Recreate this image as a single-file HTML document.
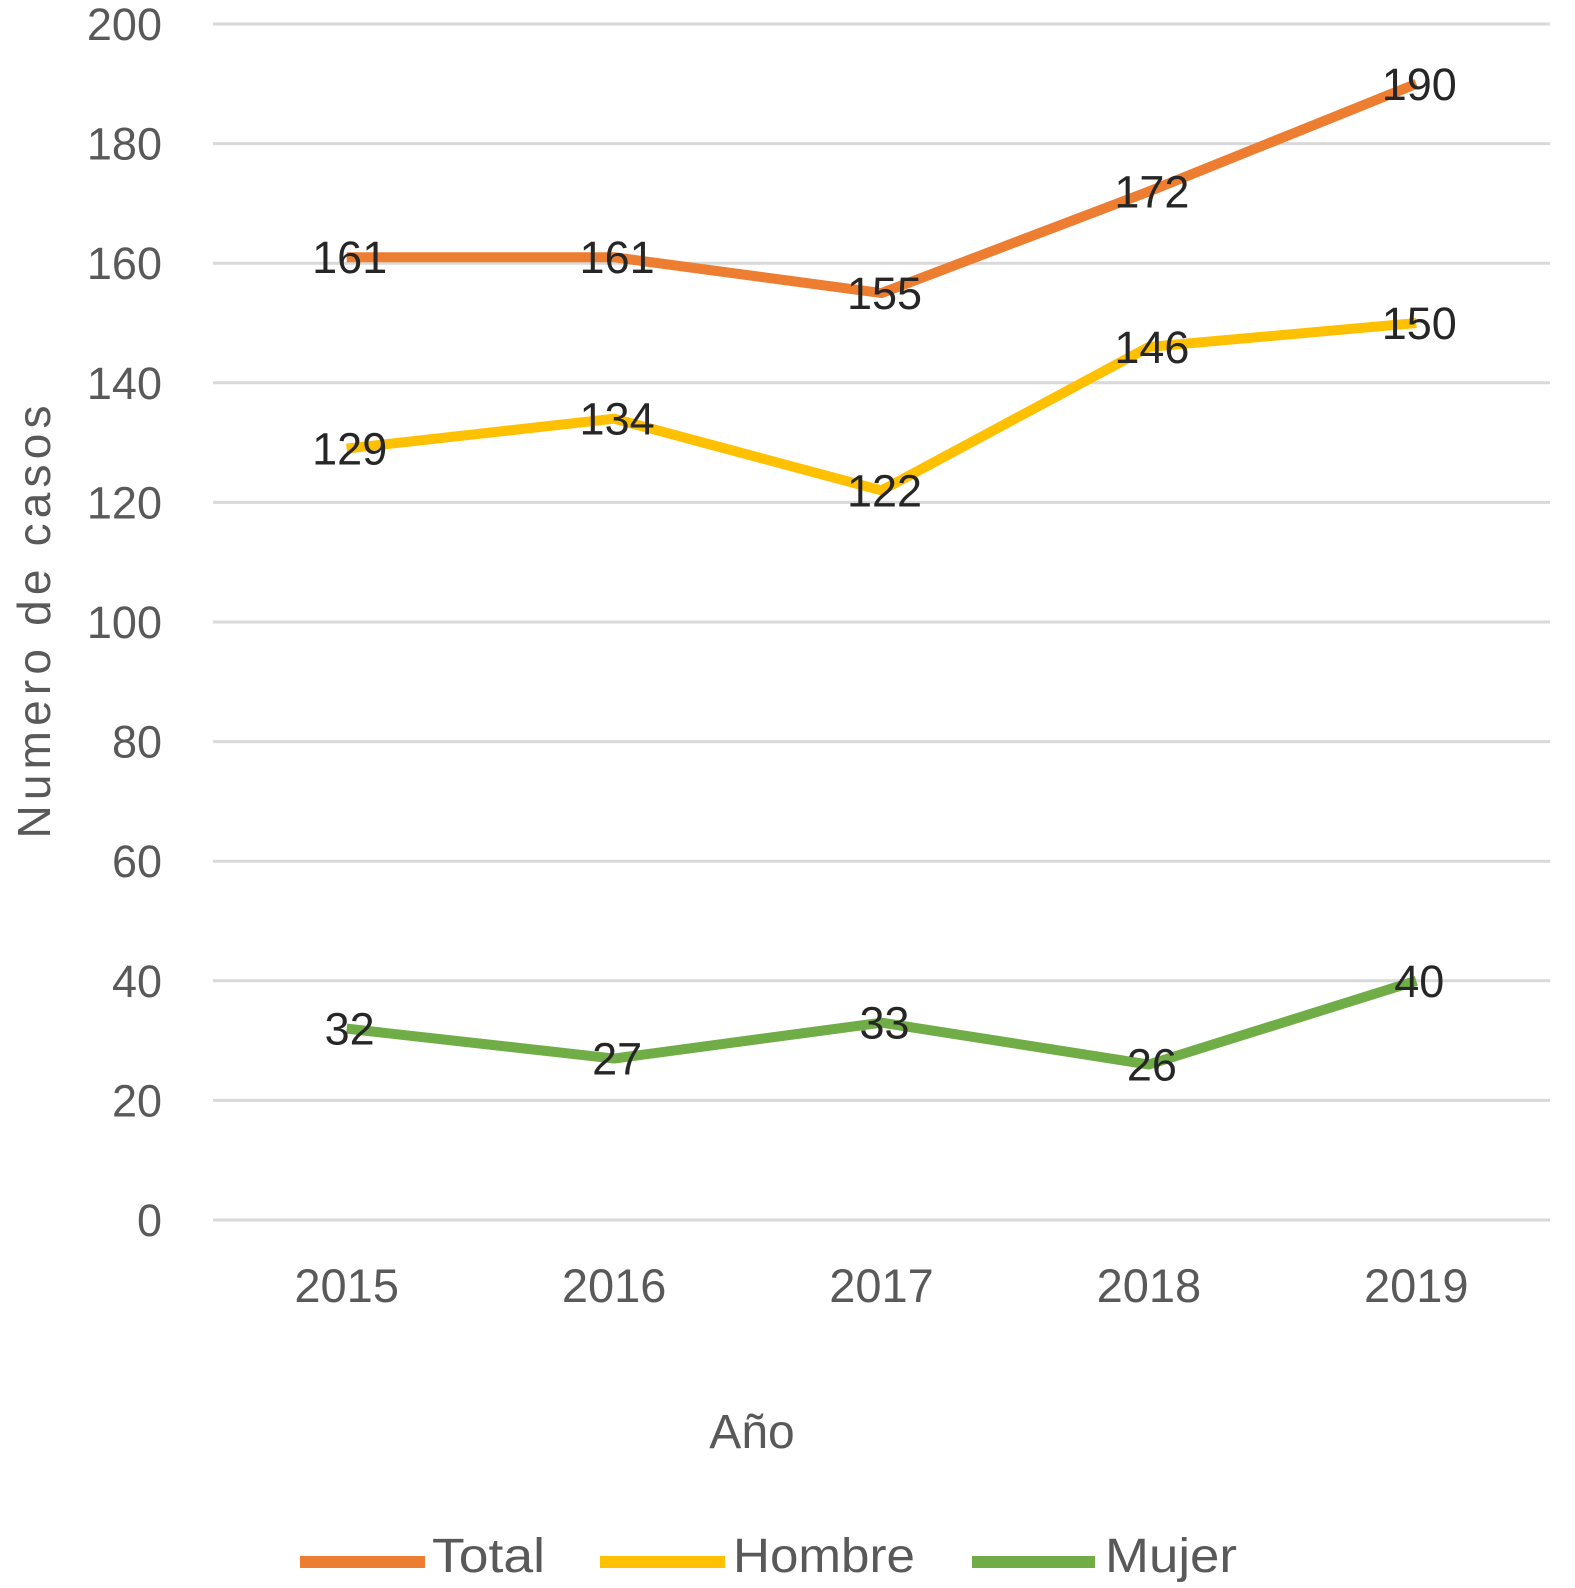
<!DOCTYPE html>
<html><head><meta charset="utf-8"><style>
body{margin:0;background:#fff;}
svg{display:block;font-family:"Liberation Sans",sans-serif;}
</style></head><body>
<svg id="chart" width="1575" height="1588" viewBox="0 0 1575 1588"></svg>
<script>
const categories=["2015","2016","2017","2018","2019"];
const totalValues=[161,161,155,172,190];
const hombreValues=[129,134,122,146,150];
const mujerValues=[32,27,33,26,40];
const yTicks=[0,20,40,60,80,100,120,140,160,180,200];
const seriesNames=["Total","Hombre","Mujer"];
const NS="http://www.w3.org/2000/svg";
const svg=document.getElementById('chart');
const L=213,R=1550,T=24,B=1220;
function y(v){return B-(v/200)*(B-T);}
function x(i){return L+(R-L)/categories.length*(i+0.5);}
function mk(tag,attrs,txt){const e=document.createElementNS(NS,tag);for(const k in attrs)e.setAttribute(k,attrs[k]);if(txt!==undefined)e.textContent=txt;svg.appendChild(e);return e;}
yTicks.forEach(t=>{
 const g=mk('line',{x1:L,x2:R,y1:y(t),y2:y(t),stroke:'#d9d9d9','stroke-width':3});
 
 
 const l=mk('text',{x:162,y:y(t)+16,'text-anchor':'end','font-size':45,fill:'#595959'},t);
 
 
});
categories.forEach((c,i)=>{
 const l=mk('text',{x:x(i),y:1302,'text-anchor':'middle','font-size':47,fill:'#595959'},c);
 
 
});
const series=[[totalValues,'#ED7D31'],[hombreValues,'#FFC000'],[mujerValues,'#70AD47']];
series.forEach(([vals,col],s)=>{
 const p=mk('polyline',{points:vals.map((v,i)=>x(i)+','+y(v)).join(' '),fill:'none',stroke:col,'stroke-width':10,'stroke-linejoin':'round'});
 
 
});
series.forEach(([vals],s)=>{
 vals.forEach((v,i)=>{
  const l=mk('text',{x:x(i)+3,y:y(v)+16,'text-anchor':'middle','font-size':45,fill:'#262626'},v);
  
  
 });
});
const xt=mk('text',{x:752,y:1448,'text-anchor':'middle','font-size':48,fill:'#595959'},'Año');


const yt=mk('text',{x:0,y:0,transform:'translate(50,622) rotate(-90)','text-anchor':'middle','font-size':46,fill:'#595959',textLength:433,lengthAdjust:'spacing'},'Numero de casos');


const legX=[[300,425,432,113],[600,725,733,182],[972,1095,1105,132]];
series.forEach(([v,col],s)=>{
 const g=document.createElementNS(NS,'g');
 
 
 svg.appendChild(g);
 const ln=document.createElementNS(NS,'line');
 ln.setAttribute('x1',legX[s][0]);ln.setAttribute('x2',legX[s][1]);ln.setAttribute('y1',1562);ln.setAttribute('y2',1562);
 ln.setAttribute('stroke',col);ln.setAttribute('stroke-width',12);
 g.appendChild(ln);
 const t=document.createElementNS(NS,'text');
 t.setAttribute('x',legX[s][2]);t.setAttribute('y',1572);t.setAttribute('font-size',48);t.setAttribute('fill','#595959');
 t.setAttribute('textLength',legX[s][3]);t.setAttribute('lengthAdjust','spacingAndGlyphs');
 t.textContent=seriesNames[s];
 g.appendChild(t);
});
</script>
</body></html>
